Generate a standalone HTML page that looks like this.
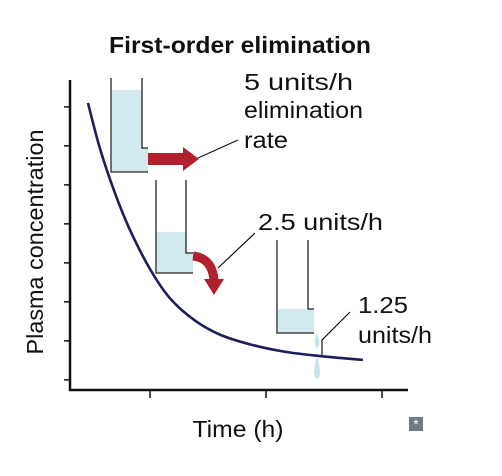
<!DOCTYPE html>
<html><head><meta charset="utf-8"><style>
body{margin:0;background:#fff;}
svg{display:block;font-family:"Liberation Sans",sans-serif;}
</style></head><body>
<svg width="502" height="476" viewBox="0 0 502 476">
<text x="240" y="53" text-anchor="middle" font-size="23" font-weight="bold" fill="#111" textLength="262" lengthAdjust="spacingAndGlyphs">First-order elimination</text>
<g id="axes" stroke="#111" stroke-width="2.5" fill="none">
<line x1="70" y1="80" x2="70" y2="391"/>
<line x1="69" y1="390" x2="408" y2="390"/>
</g>
<g id="ticks" stroke="#111" stroke-width="1.5"></g>
<text transform="translate(43,242) rotate(-90)" text-anchor="middle" font-size="23" fill="#111" textLength="225" lengthAdjust="spacingAndGlyphs">Plasma concentration</text>
<text x="238" y="437" text-anchor="middle" font-size="23" fill="#111" textLength="91" lengthAdjust="spacingAndGlyphs">Time (h)</text>
<g>
<path d="M112 90 H142 V148 H148 V172 H112 Z" fill="#d3e9f0"/>
<path d="M111 78 V172 H148 M142 78 V148 H148" fill="none" stroke="#222" stroke-width="1.3"/>
</g>
<path d="M148 153 H183 V147 L199 159 L183 171 V165 H148 Z" fill="#b2202e"/>
<g>
<path d="M157 232 H186 V253 H193 V273 H157 Z" fill="#d3e9f0"/>
<path d="M156 180 V273 H193 M186 180 V253 H193" fill="none" stroke="#222" stroke-width="1.3"/>
</g>
<path d="M193 256 Q212 258 214 280" fill="none" stroke="#b2202e" stroke-width="9"/>
<path d="M204 279 L224 279 L214 295 Z" fill="#b2202e"/>
<g>
<path d="M278 309 H308 V309 H314 V333 H278 Z" fill="#d3e9f0"/>
<path d="M277 240 V333 H314 M308 240 V309 H314" fill="none" stroke="#222" stroke-width="1.3"/>
</g>
<path d="M317 336 Q314 344 317 347 Q320 344 317 336 Z" fill="#c8e3ee" stroke="#c8e3ee" stroke-width="2"/>
<path d="M317 360 Q313 375 317 378 Q321 375 317 360 Z" fill="#c8e3ee" stroke="#c8e3ee" stroke-width="2"/>
<path id="curve" fill="none" stroke="#1d1d5e" stroke-width="2.6"/>
<g stroke="#111" stroke-width="1.2" fill="none">
<line x1="198" y1="158" x2="238" y2="140"/>
<line x1="218" y1="268" x2="255" y2="233"/>
<path d="M322 355 V340 L350 312"/>
</g>
<g font-size="23" fill="#111">
<text x="244" y="90" textLength="109" lengthAdjust="spacingAndGlyphs">5 units/h</text>
<text x="244" y="118" textLength="119" lengthAdjust="spacingAndGlyphs">elimination</text>
<text x="244" y="148" textLength="44" lengthAdjust="spacingAndGlyphs">rate</text>
<text x="258" y="230" textLength="125" lengthAdjust="spacingAndGlyphs">2.5 units/h</text>
<text x="358" y="313" textLength="50" lengthAdjust="spacingAndGlyphs">1.25</text>
<text x="358" y="343" textLength="74" lengthAdjust="spacingAndGlyphs">units/h</text>
</g>
<g>
<rect x="409" y="417" width="14" height="14" fill="#6e7b82"/>
<text x="416" y="429" text-anchor="middle" font-size="14" fill="#fff">*</text>
</g>
</svg>
<script>
const times=[0.62,1.03,1.55,2.07,2.76,3.45,4.31,5.17,6.21,7.41,8.62,10.1];
const conc=[7.36,6.2,5.05,4.1,3.1,2.35,1.78,1.42,1.17,0.98,0.87,0.77];
const yTicks=[0.26,1.26,2.26,3.26,4.26,5.26,6.26,7.26];
const xTicks=[2.76,6.76,10.76];
function xScale(t){return 70+t*29;}
function yScale(c){return 390-c*39;}
const ns="http://www.w3.org/2000/svg";
const tg=document.getElementById('ticks');
yTicks.forEach(v=>{
  const l=document.createElementNS(ns,'line');
  l.setAttribute('x1',64);l.setAttribute('x2',70);
  l.setAttribute('y1',yScale(v));l.setAttribute('y2',yScale(v));
  
  
  tg.appendChild(l);
});
xTicks.forEach(v=>{
  const l=document.createElementNS(ns,'line');
  l.setAttribute('x1',xScale(v));l.setAttribute('x2',xScale(v));
  l.setAttribute('y1',390);l.setAttribute('y2',398);
  
  
  tg.appendChild(l);
});
let pts=times.map((t,i)=>[xScale(t),yScale(conc[i])]);
let d='M'+pts[0][0]+' '+pts[0][1];
for(let i=1;i<pts.length;i++){
  const p0=pts[i-1],p1=pts[i],pm=pts[i-2]||p0,p2=pts[i+1]||p1;
  const c1=[p0[0]+(p1[0]-pm[0])/6,p0[1]+(p1[1]-pm[1])/6];
  const c2=[p1[0]-(p2[0]-p0[0])/6,p1[1]-(p2[1]-p0[1])/6];
  d+=` C${c1[0]} ${c1[1]} ${c2[0]} ${c2[1]} ${p1[0]} ${p1[1]}`;
}
document.getElementById('curve').setAttribute('d',d);
</script>
</body></html>
